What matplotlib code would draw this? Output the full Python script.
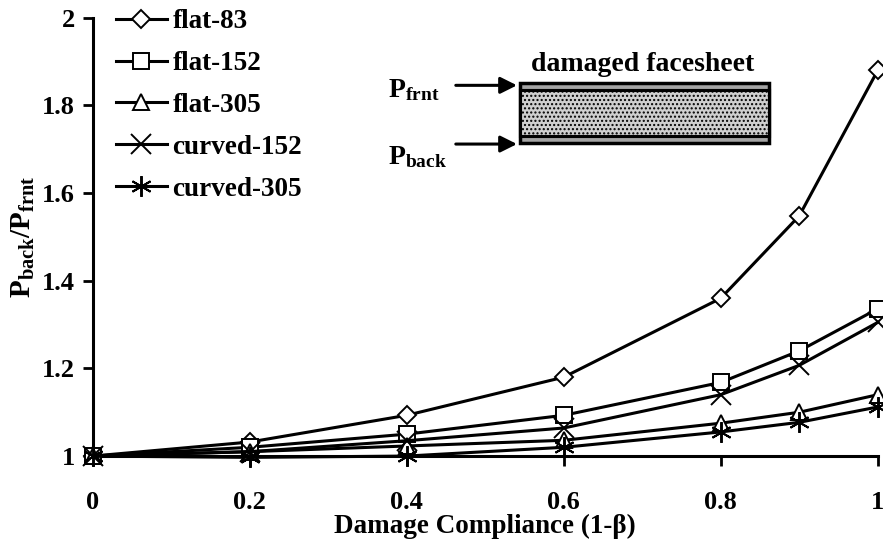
import numpy as np
import matplotlib
matplotlib.use('Agg')
import matplotlib.pyplot as plt
from matplotlib.patches import Rectangle
from matplotlib.ticker import FuncFormatter

plt.rcParams['font.family'] = 'Liberation Serif'
plt.rcParams['font.weight'] = 'bold'
plt.rcParams['mathtext.fontset'] = 'custom'
plt.rcParams['mathtext.rm'] = 'Liberation Serif:bold'
plt.rcParams['mathtext.it'] = 'Liberation Serif:bold'
plt.rcParams['mathtext.bf'] = 'Liberation Serif:bold'
plt.rcParams['hatch.color'] = '#8a8a8a'

# damage compliance (1-beta)
compliance = [0, 0.2, 0.4, 0.6, 0.8, 0.9, 1.0]

# pressure ratio P_back / P_frnt for each panel
flat_83 = [1.0, 1.032, 1.093, 1.18, 1.36, 1.548, 1.88]
flat_152 = [1.0, 1.02, 1.05, 1.093, 1.168, 1.24, 1.336]
flat_305 = [1.0, 1.01, 1.023, 1.036, 1.075, 1.10, 1.14]
curved_152 = [1.0, 1.01, 1.035, 1.064, 1.14, 1.207, 1.305]
curved_305 = [1.0, 0.997, 1.0, 1.02, 1.055, 1.077, 1.112]

series = [
    ('flat-83', flat_83, 'D', 9, 'white'),
    ('flat-152', flat_152, 's', 11, 'white'),
    ('flat-305', flat_305, '^', 12, 'white'),
    ('curved-152', curved_152, 'x', 14, 'none'),
    ('curved-305', curved_305, (6, 2, 0), 15, 'none'),
]

fig = plt.figure(figsize=(8.83, 5.41), dpi=100)
ax = fig.add_axes([0.105, 0.157, 0.889, 0.81])

for name, vals, mk, ms, fc in series:
    ax.plot(compliance, vals, color='black', lw=2.2, marker=mk, markersize=ms,
            markerfacecolor=fc, markeredgecolor='black', markeredgewidth=1.4,
            label=name, clip_on=False, zorder=3)

ax.set_xlim(0, 1)
ax.set_ylim(1, 2)
ax.set_xticks([0, 0.2, 0.4, 0.6, 0.8, 1.0])
ax.set_yticks([1, 1.2, 1.4, 1.6, 1.8, 2])
fmt = FuncFormatter(lambda v, p: '{:g}'.format(round(v, 2)))
ax.xaxis.set_major_formatter(fmt)
ax.yaxis.set_major_formatter(fmt)

for s in ['top', 'right']:
    ax.spines[s].set_visible(False)
for s in ['left', 'bottom']:
    ax.spines[s].set_linewidth(2.2)
ax.tick_params(axis='both', direction='out', length=7, width=2, labelsize=19)
ax.tick_params(axis='x', pad=18)
ax.tick_params(axis='y', pad=6)

ax.set_xlabel('Damage Compliance (1-\u03b2)', fontsize=19.5, fontweight='bold', labelpad=0)
ax.set_ylabel(r'$\mathrm{P_{back}/P_{frnt}}$', fontsize=21, labelpad=3)

leg = ax.legend(loc='upper left', bbox_to_anchor=(-0.002, 1.075), frameon=False,
                fontsize=19.5, handlelength=1.9, handletextpad=0.2, labelspacing=0.62)

# sketch of the damaged facesheet
tr = ax.transAxes
x0, x1 = 0.544, 0.862
ax.add_patch(Rectangle((x0, 0.715), x1 - x0, 0.137, transform=tr,
                       facecolor='#a4a4a4', edgecolor='black', lw=2.5, zorder=4, clip_on=False))
ax.add_patch(Rectangle((x0, 0.730), x1 - x0, 0.105, transform=tr, hatch='....',
                       facecolor='#cfcfcf', edgecolor='black', lw=2.2, zorder=4, clip_on=False))
ax.add_patch(Rectangle((x0, 0.730), x1 - x0, 0.105, transform=tr, fill=False,
                       edgecolor='black', lw=2.2, zorder=5, clip_on=False))
ax.annotate('', xy=(x0, 0.846), xytext=(0.459, 0.846), xycoords=tr,
            arrowprops=dict(arrowstyle='-|>', color='black', lw=2.2, mutation_scale=25))
ax.annotate('', xy=(x0, 0.712), xytext=(0.459, 0.712), xycoords=tr,
            arrowprops=dict(arrowstyle='-|>', color='black', lw=2.2, mutation_scale=25))
ax.text(0.70, 0.893, 'damaged facesheet', transform=tr, ha='center', va='center', fontsize=20)
ax.text(0.376, 0.836, r'$\mathrm{P_{frnt}}$', transform=tr, ha='left', va='center', fontsize=20)
ax.text(0.376, 0.683, r'$\mathrm{P_{back}}$', transform=tr, ha='left', va='center', fontsize=20)

fig.savefig('out.png', dpi=100)
